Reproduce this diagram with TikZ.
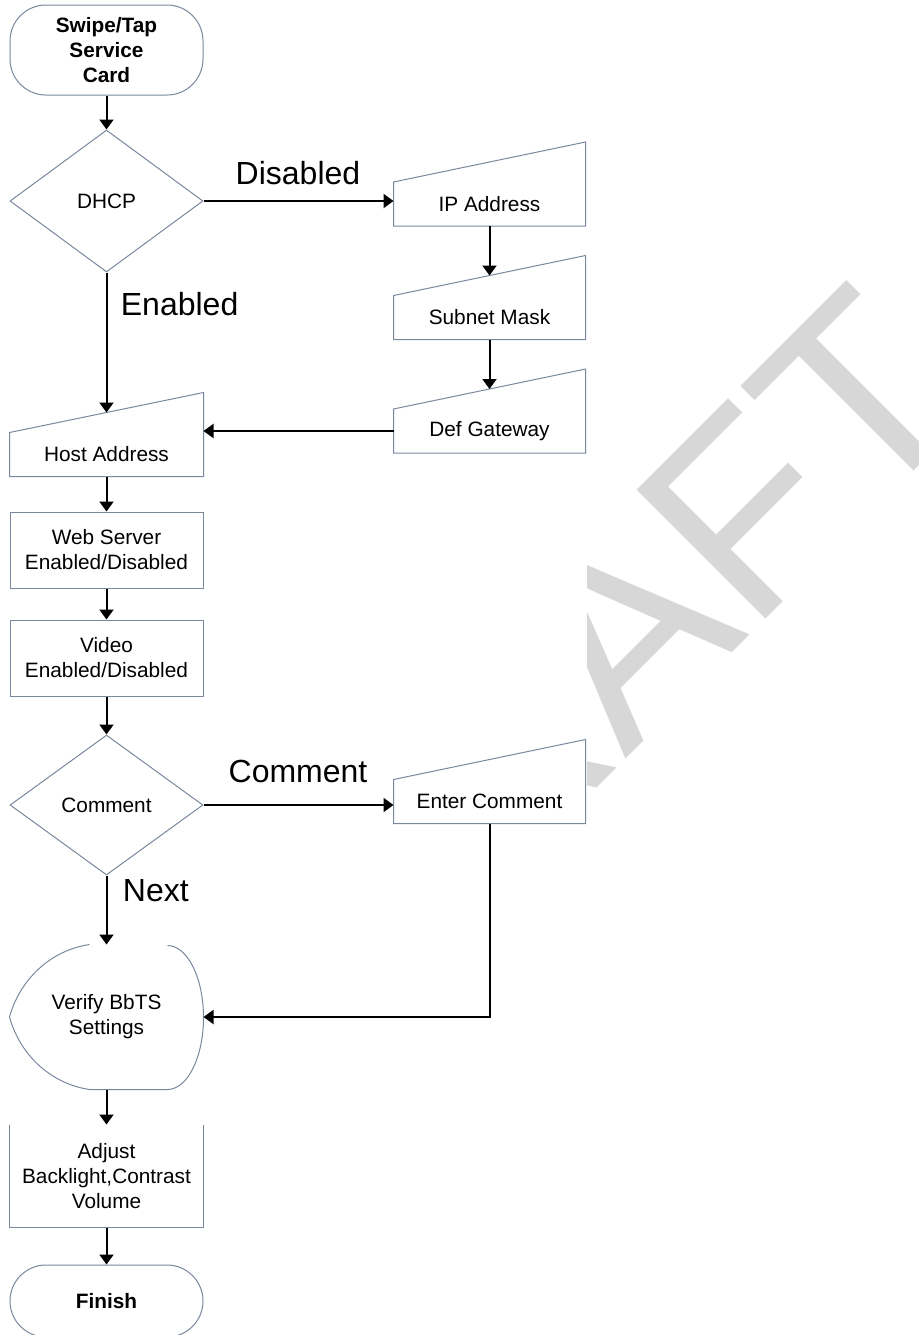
\documentclass[tikz,border=0pt]{standalone}
\usepackage{fontspec}
\setmainfont{Liberation Sans}
\usetikzlibrary{shapes.geometric,arrows.meta,positioning,calc}

\definecolor{outline}{RGB}{122,136,158}
\definecolor{wmgray}{RGB}{215,215,215}

\tikzset{
  box/.style={draw=outline, line width=0.5pt, fill=white, align=center, inner sep=0pt,
    font=\fontsize{10.4}{12.5}\selectfont},
  term/.style={box, rounded corners=18pt, minimum width=96.5pt,
    font=\fontsize{10.4}{12.5}\selectfont\bfseries},
  proc/.style={box, minimum width=96.5pt},
  decide/.style={box, diamond, minimum width=96.5pt},
  manin/.style={box, draw=none, fill=none, minimum width=95.5pt, minimum height=21.5pt},
  disp/.style={manin, minimum width=96.5pt, minimum height=72pt},
  shapeline/.style={draw=outline, line width=0.5pt},
  flow/.style={-{Triangle[length=5pt,width=7pt]}, line width=1pt},
  lbl/.style={inner sep=0pt, font=\fontsize{16}{19}\selectfont},
}

\begin{document}
\begin{tikzpicture}[x=0.5pt, y=-0.5pt]
\useasboundingbox (0,0) rectangle (919,1335);

% watermark, only visible right of the chart
\begin{scope}
\clip (587,0) rectangle (919,1335);
\node[rotate=45, anchor=base west, inner sep=0pt, text=wmgray,
  font=\fontsize{132.5}{132.5}\selectfont] (wm) at (355,1030) {DRAFT};
\end{scope}

\node[term, minimum height=45pt] (start) at (106.5,50) {Swipe/Tap\\Service\\Card};
\node[decide, minimum height=71pt] (dhcp) at (106.5,201) {DHCP};
\node[manin] (ip) at (489.5,204) {IP Address};
\node[manin] (mask) at (489.5,317.5) {Subnet Mask};
\node[manin] (gw) at (489.5,431) {Def Gateway};
\node[manin, minimum width=96.5pt] (host) at (106.5,454.5) {Host Address};
\node[proc, minimum height=38pt] (web) at (106.5,550) {Web Server\\Enabled/Disabled};
\node[proc, minimum height=38pt] (video) at (106.5,658) {Video\\Enabled/Disabled};
\node[decide, minimum height=70pt] (cmtq) at (106.5,805) {Comment};
\node[manin] (cmt) at (489.5,801.5) {Enter Comment};
\node[disp] (verify) at (106.5,1017) {Verify BbTS\\Settings};
\node[proc, draw=none, minimum height=51pt] (adjust) at (106.5,1176) {Adjust\\Backlight,Contrast\\Volume};
\node[term, minimum height=36pt] (finish) at (106.5,1301) {Finish};

% manual input boxes, slanted tops
\foreach \n in {ip,mask,gw,host,cmt} {
    \draw[shapeline] (\n.south west) -- (\n.north west) -- ([yshift=20pt]\n.north east) -- (\n.south east) -- cycle;
    \coordinate (\n-top) at ([yshift=10pt]\n.north);
}

% display shape, open at the top
\draw[shapeline] ([xshift=40pt]verify.north west)
    .. controls ([xshift=20pt,yshift=-3pt]verify.north west) and ([xshift=5pt,yshift=-18pt]verify.north west) .. (verify.west)
    .. controls ([xshift=5pt,yshift=18pt]verify.south west) and ([xshift=20pt,yshift=3pt]verify.south west) .. ([xshift=40pt]verify.south west)
    -- ([xshift=-18pt]verify.south east) arc[start angle=-90, end angle=90, x radius=18pt, y radius=36pt];

% adjust box, no top edge
\draw[shapeline] (adjust.north west) -- (adjust.south west) -- (adjust.south east) -- (adjust.north east);

\draw[flow] (start) -- (dhcp);
\draw[flow] (dhcp.east) -- (dhcp.east -| ip.west);
\draw[flow] (ip) -- (mask-top);
\draw[flow] (mask) -- (gw-top);
\draw[flow] (gw.west) -- (gw.west -| host.east);
\draw[flow] (dhcp) -- (host-top);
\draw[flow] (host) -- (web);
\draw[flow] (web) -- (video);
\draw[flow] (video) -- (cmtq);
\draw[flow] (cmtq.east) -- (cmtq.east -| cmt.west);
\draw[flow] (cmtq) -- (verify);
\draw[flow] (cmt) |- (verify.east);
\draw[flow] (verify) -- (adjust);
\draw[flow] (adjust) -- (finish);

\node[lbl] (dis) at (298,173) {Disabled};
\node[lbl, right=7pt] (en) at (106.5,304) {Enabled};
\node[lbl] (cm) at (298,771.5) {Comment};
\node[lbl, right=8pt] (nx) at (106.5,890.5) {Next};

\end{tikzpicture}
\end{document}
